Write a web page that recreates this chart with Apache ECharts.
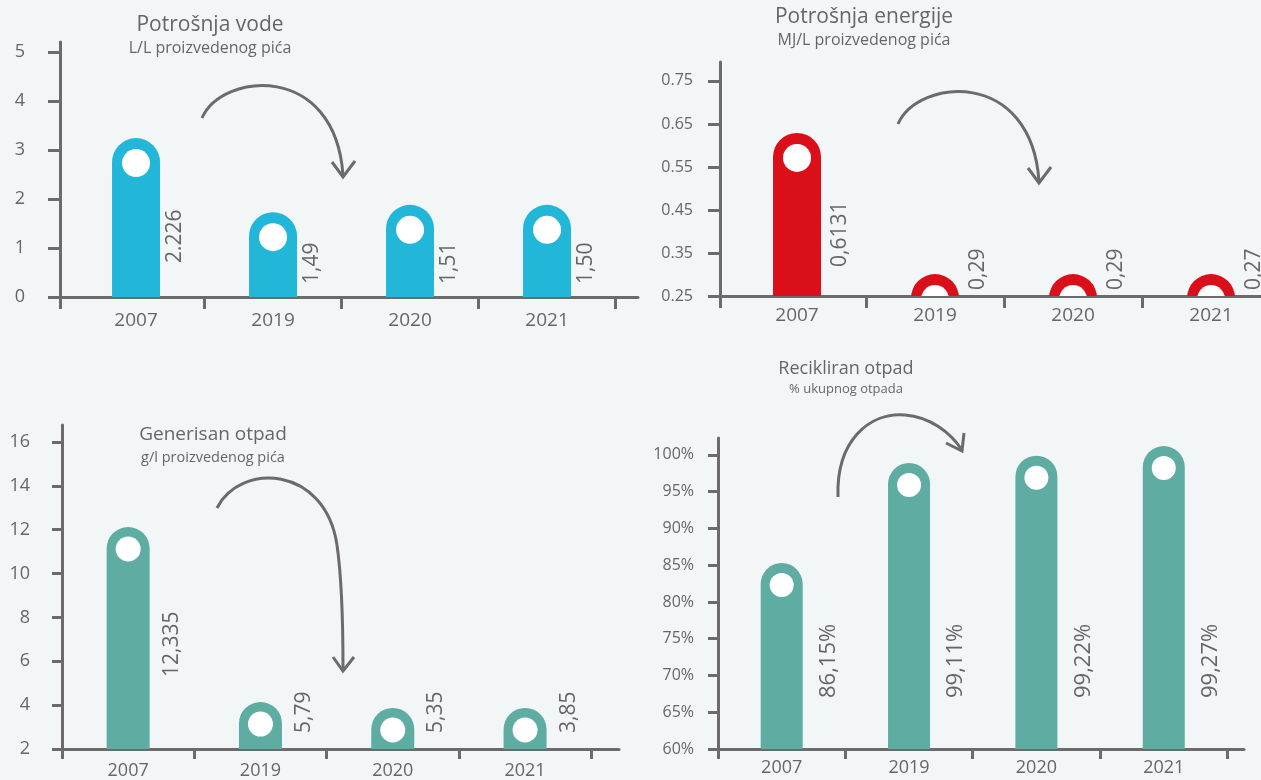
<!DOCTYPE html>
<html>
<head>
<meta charset="utf-8">
<script src="https://cdn.jsdelivr.net/npm/echarts@6/dist/echarts.min.js"></script>
<style>
  html, body { margin: 0; background: #f2f6f7; }
  #chart { width: 1261px; height: 780px; }
</style>
</head>
<body>
<div id="chart"></div>
<script>
const years = ['2007', '2019', '2020', '2021'];

// bar heights as drawn, and the printed labels
const waterValues = [3.24, 1.73, 1.88, 1.88];
const waterLabels = ['2.226', '1,49', '1,51', '1,50'];
const waterTicks = [0, 1, 2, 3, 4, 5];

const energyValues = [0.629, 0.301, 0.301, 0.301];
const energyLabels = ['0,6131', '0,29', '0,29', '0,27'];
const energyTicks = [0.25, 0.35, 0.45, 0.55, 0.65, 0.75];

const wasteValues = [12.12, 4.14, 3.87, 3.87];
const wasteLabels = ['12,335', '5,79', '5,35', '3,85'];
const wasteTicks = [2, 4, 6, 8, 10, 12, 14, 16];

const recycleValues = [85.3, 98.9, 99.9, 101.2];
const recycleLabels = ['86,15%', '99,11%', '99,22%', '99,27%'];
const recycleTicks = [60, 65, 70, 75, 80, 85, 90, 95, 100];

const FONT = '"Open Sans", sans-serif';
const GREY = '#666';
const AXIS = '#6b6b6b';
const boundaries = [0.5, 1.5, 2.5, 3.5];

const panels = [
  {
    title: 'Potrošnja vode', sub: 'L/L proizvedenog pića',
    titleX: 205, titleTop: 8, titleSize: 21, subSize: 16, gap: 2,
    grid: { left: 60, top: 42, width: 578, height: 255 },
    xMin: -0.555, xMax: 3.664, yMin: 0, yMax: 5.2, ticks: waterTicks, fmt: v => String(v),
    values: waterValues, labels: waterLabels, color: '#22b7d8',
    barWidth: 48, dotR: 14, dotOffset: 25, labelGap: 15, labelLift: [34, 13, 13, 13],
    yLabelSize: 18, yMargin: 35, tickLen: 12, xLabelSize: 19, xMargin: 14, valueSize: 21
  },
  {
    title: 'Potrošnja energije', sub: 'MJ/L proizvedenog pića',
    titleX: 859, titleTop: 0, titleSize: 21, subSize: 16, gap: 2,
    grid: { left: 720, top: 62, width: 541, height: 234 },
    xMin: -0.558, xMax: 3.362, yMin: 0.25, yMax: 0.794, ticks: energyTicks, fmt: v => v.toFixed(2),
    values: energyValues, labels: energyLabels, color: '#db0f1a',
    barWidth: 48, dotR: 14, dotOffset: 25, labelGap: 19, labelLift: [29, 6, 6, 6],
    yLabelSize: 16, yMargin: 27, tickLen: 12, xLabelSize: 19, xMargin: 10, valueSize: 21
  },
  {
    title: 'Generisan otpad', sub: 'g/l proizvedenog pića',
    titleX: 208, titleTop: 418, titleSize: 19, subSize: 14.5, gap: 2,
    grid: { left: 62, top: 425, width: 557, height: 324 },
    xMin: -0.5, xMax: 3.71, yMin: 2, yMax: 16.77, ticks: wasteTicks, fmt: v => String(v),
    values: wasteValues, labels: wasteLabels, color: '#5eaca2',
    barWidth: 43, dotR: 12.5, dotOffset: 22, labelGap: 22, labelLift: [72, 16, 16, 16],
    yLabelSize: 18, yMargin: 32, tickLen: 10, xLabelSize: 18, xMargin: 13, valueSize: 21
  },
  {
    title: 'Recikliran otpad', sub: '% ukupnog otpada',
    titleX: 841, titleTop: 352, titleSize: 18, subSize: 13, gap: -1,
    grid: { left: 718, top: 438, width: 526, height: 311 },
    xMin: -0.5, xMax: 3.63, yMin: 60, yMax: 102.3, ticks: recycleTicks, fmt: v => v + '%',
    values: recycleValues, labels: recycleLabels, color: '#5eaca2',
    barWidth: 42, dotR: 12, dotOffset: 22, labelGap: 26, labelLift: [51, 51, 51, 51],
    yLabelSize: 16, yMargin: 24, tickLen: 10, xLabelSize: 18, xMargin: 10, valueSize: 22
  }
];

// curved arrows between the first bar and the rest (decoration)
const arrowCurves = [
  [202, 118, 222, 72, 335, 62, 343, 175],
  [898, 124, 918, 78, 1031, 68, 1039, 181],
  [217, 508, 240, 462, 325, 465, 337, 545],
  [337, 545, 342, 580, 343, 620, 343, 668],
  [838, 497, 836, 440, 870, 412, 905, 415],
  [905, 415, 930, 417, 950, 432, 962, 450]
];
const arrowHeads = [
  [[332, 162], [343, 177], [355, 161]],
  [[1028, 168], [1039, 183], [1051, 167]],
  [[333, 657], [343, 671], [354, 657]],
  [[946, 443], [962, 451], [964, 433]]
];

function makeRenderer(p) {
  return function (params, api) {
    const i = api.value(0);
    const top = api.coord([i, api.value(1)]);
    const base = api.coord([i, p.yMin]);
    const r = p.barWidth / 2;
    const bottom = Math.max(base[1], top[1] + 2 * r);
    return {
      type: 'group',
      children: [
        {
          type: 'rect',
          shape: { x: top[0] - r, y: top[1], width: p.barWidth, height: bottom - top[1], r: [r, r, 0, 0] },
          style: { fill: p.color }
        },
        {
          type: 'circle',
          shape: { cx: top[0], cy: top[1] + p.dotOffset, r: p.dotR },
          style: { fill: '#fff' }
        },
        {
          type: 'text',
          x: top[0] + r + p.labelGap,
          y: base[1] - p.labelLift[params.dataIndex],
          rotation: Math.PI / 2,
          style: {
            text: p.labels[params.dataIndex],
            fill: GREY,
            fontSize: p.valueSize,
            fontFamily: FONT,
            align: 'left',
            verticalAlign: 'middle'
          }
        }
      ]
    };
  };
}

const arrowStyle = { stroke: '#6b6b6b', lineWidth: 3, fill: null };

const option = {
  backgroundColor: '#f2f6f7',
  animation: false,
  title: panels.map(p => ({
    text: p.title,
    subtext: p.sub,
    left: p.titleX,
    top: p.titleTop,
    textAlign: 'center',
    itemGap: p.gap,
    textStyle: { color: GREY, fontSize: p.titleSize, fontWeight: 'normal', fontFamily: FONT, lineHeight: 24 },
    subtextStyle: { color: GREY, fontSize: p.subSize, fontFamily: FONT, lineHeight: 18 }
  })),
  grid: panels.map(p => ({ ...p.grid })),
  xAxis: panels.map((p, k) => ({
    type: 'value',
    gridIndex: k,
    min: p.xMin,
    max: p.xMax,
    splitLine: { show: false },
    axisLine: { onZero: false, lineStyle: { color: AXIS, width: 3 } },
    axisTick: {
      show: true, length: p.tickLen,
      customValues: [p.xMin, ...boundaries.filter(b => b <= p.xMax)],
      lineStyle: { color: AXIS, width: 3 }
    },
    axisLabel: {
      customValues: years.map((y, i) => i),
      formatter: v => years[Math.round(v)],
      color: GREY, fontSize: p.xLabelSize, fontFamily: FONT, margin: p.xMargin
    }
  })),
  yAxis: panels.map((p, k) => ({
    type: 'value',
    gridIndex: k,
    min: p.yMin,
    max: p.yMax,
    splitLine: { show: false },
    axisLine: { show: true, onZero: false, lineStyle: { color: AXIS, width: 3 } },
    axisTick: { show: true, length: p.tickLen, customValues: p.ticks, lineStyle: { color: AXIS, width: 3 } },
    axisLabel: {
      customValues: p.ticks,
      formatter: p.fmt,
      color: GREY, fontSize: p.yLabelSize, fontFamily: FONT, margin: p.yMargin
    }
  })),
  series: panels.map((p, k) => ({
    type: 'custom',
    xAxisIndex: k,
    yAxisIndex: k,
    clip: true,
    renderItem: makeRenderer(p),
    encode: { x: 0, y: 1 },
    data: p.values.map((v, i) => [i, v])
  })),
  graphic: [
    ...arrowCurves.map(c => ({
      type: 'bezierCurve',
      shape: { x1: c[0], y1: c[1], cpx1: c[2], cpy1: c[3], cpx2: c[4], cpy2: c[5], x2: c[6], y2: c[7] },
      style: arrowStyle,
      z: 10
    })),
    ...arrowHeads.map(pts => ({
      type: 'polyline',
      shape: { points: pts },
      style: arrowStyle,
      z: 10
    }))
  ]
};

const chart = echarts.init(document.getElementById('chart'));
chart.setOption(option);
</script>
</body>
</html>
